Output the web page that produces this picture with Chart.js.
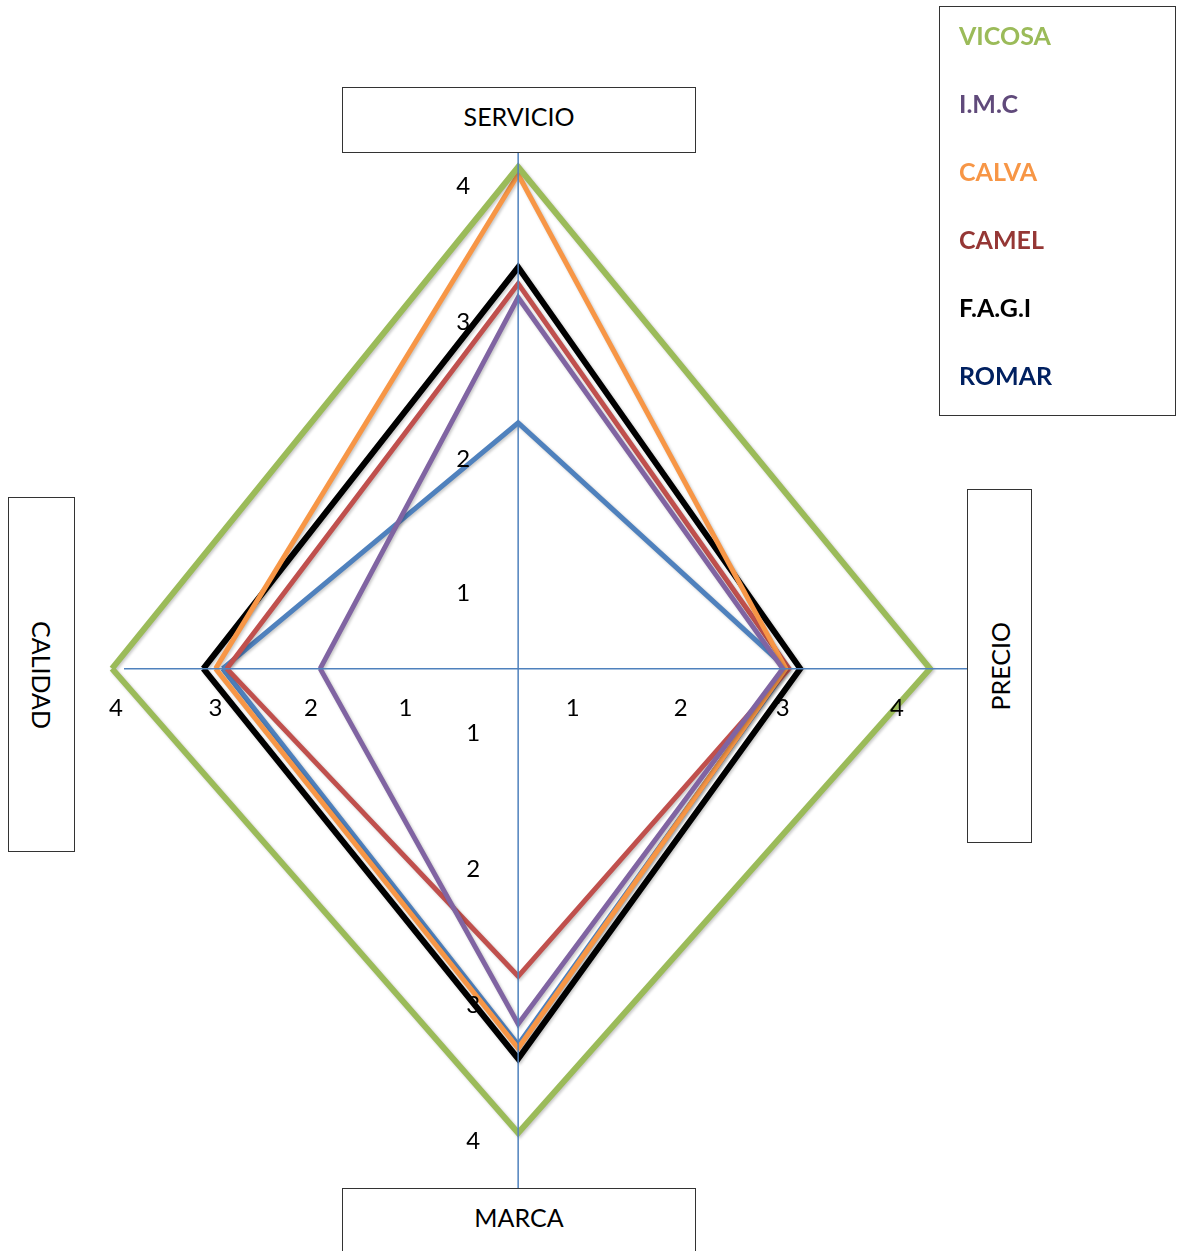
<!DOCTYPE html>
<html>
<head>
<meta charset="utf-8">
<title>Diagrama de posicionamiento</title>
<script src="https://cdn.jsdelivr.net/npm/chart.js@4.4.1/dist/chart.umd.min.js"></script>
<style>
    html, body { margin: 0; padding: 0; background: #fff; overflow: hidden; }
    #wrap { position: relative; width: 1181px; height: 1251px; font-family: Lato, 'Open Sans', sans-serif; }
    #wrap canvas { position: absolute; left: 0; top: 0; }
    .axis-box {
        position: absolute; box-sizing: border-box; background: #fff;
        border: 1px solid #333; display: flex; align-items: center; justify-content: center;
        font-size: 25px; color: #000;
    }
    #box-servicio { left: 342px; top: 87px; width: 354px; height: 66px; padding-bottom: 8px; }
    #box-marca { left: 342px; top: 1188px; width: 354px; height: 80px; padding-bottom: 22px; }
    #box-calidad { left: 8px; top: 497px; width: 67px; height: 355px; writing-mode: vertical-rl; }
    #box-precio { left: 967px; top: 489px; width: 65px; height: 354px; }
    #box-precio span { writing-mode: vertical-rl; transform: rotate(180deg); }
    #legend {
        position: absolute; left: 939px; top: 6px; width: 237px; height: 410px;
        box-sizing: border-box; border: 1px solid #333; background: #fff;
    }
    #legend ul { list-style: none; margin: 0; padding: 0 0 0 19px; position: relative; top: -6px; }
    #legend li { height: 68px; line-height: 68px; font-size: 25px; font-weight: bold; }
</style>
</head>
<body>
<div id="wrap">
    <canvas id="diamondChart"></canvas>
    <div class="axis-box" id="box-servicio">SERVICIO</div>
    <div class="axis-box" id="box-marca">MARCA</div>
    <div class="axis-box" id="box-calidad">CALIDAD</div>
    <div class="axis-box" id="box-precio"><span>PRECIO</span></div>
    <div id="legend"><ul id="legend-list"></ul></div>
</div>
<script>
// Values per company, in axis order: SERVICIO, PRECIO, MARCA, CALIDAD (0-4)
const axisNames = ['SERVICIO', 'PRECIO', 'MARCA', 'CALIDAD'];
const seriesNames = ['VICOSA', 'I.M.C', 'CALVA', 'CAMEL', 'F.A.G.I', 'ROMAR'];
const vicosa = [4.00, 4.00, 4.00, 4.00];
const imc = [2.96, 2.57, 3.06, 1.95];
const calva = [3.94, 2.60, 3.27, 2.98];
const camel = [3.07, 2.63, 2.65, 2.87];
const fagi = [3.20, 2.74, 3.36, 3.10];
const romar = [1.96, 2.61, 3.24, 2.91];

// Axis number labels and where each one sits along its axis
const tickLabels = ['1', '2', '3', '4'];
const servicioTickAt = [0.60, 1.67, 2.76, 3.85];
const precioTickAt = [0.53, 1.58, 2.57, 3.68];
const marcaTickAt = [0.56, 1.73, 2.90, 4.07];
const calidadTickAt = [1.11, 2.04, 2.98, 3.96];

// Styles
const lineColors = ['#9BBB59', '#8064A2', '#F79646', '#C0504D', '#000000', '#4F81BD'];
const legendColors = ['#9BBB59', '#604A7B', '#F79646', '#953735', '#000000', '#002060'];
const lineWidths = [6, 5, 5, 5, 6, 5];
const axisColor = '#4F81BD';

// Length of each arm (px for value 4) - the diamond is not symmetric
const reach = { up: 501.8, right: 412, down: 464.5, left: 406.3 };
const stretchRight = reach.right / reach.left;
const stretchDown = reach.down / reach.up;

// left -> top -> right -> bottom -> left
function toPoints(vals) {
    const [serv, prec, marc, cal] = vals;
    return [
        { x: -cal, y: 0 },
        { x: 0, y: serv },
        { x: prec * stretchRight, y: 0 },
        { x: 0, y: -marc * stretchDown },
        { x: -cal, y: 0 }
    ];
}

const diamondAxes = {
    id: 'diamondAxes',
    beforeDatasetsDraw(chart) {
        const ctx = chart.ctx;
        ctx.save();
        ctx.shadowColor = 'rgba(0, 0, 0, 0.22)';
        ctx.shadowBlur = 3;
        ctx.shadowOffsetX = 1.5;
        ctx.shadowOffsetY = 1.5;
    },
    afterDatasetsDraw(chart) {
        const ctx = chart.ctx;
        ctx.restore();
        const xs = chart.scales.x, ys = chart.scales.y;
        const x0 = xs.getPixelForValue(0);
        const y0 = ys.getPixelForValue(0);

        ctx.save();
        ctx.strokeStyle = axisColor;
        ctx.lineWidth = 1.5;
        ctx.beginPath();
        ctx.moveTo(x0, 153);
        ctx.lineTo(x0, 1188);
        ctx.moveTo(124, y0);
        ctx.lineTo(967, y0);
        ctx.stroke();

        ctx.fillStyle = '#000';
        ctx.font = '24px Lato';
        ctx.textAlign = 'center';
        ctx.textBaseline = 'middle';
        tickLabels.forEach((lbl, i) => {
            ctx.fillText(lbl, x0 - 55, ys.getPixelForValue(servicioTickAt[i]));
            ctx.fillText(lbl, xs.getPixelForValue(precioTickAt[i] * stretchRight), y0 + 40);
            ctx.fillText(lbl, x0 - 45, ys.getPixelForValue(-marcaTickAt[i] * stretchDown));
            ctx.fillText(lbl, xs.getPixelForValue(-calidadTickAt[i]), y0 + 40);
        });
        ctx.restore();
    }
};

function buildLegend() {
    const list = document.getElementById('legend-list');
    seriesNames.forEach((name, i) => {
        const li = document.createElement('li');
        li.textContent = name;
        li.style.color = legendColors[i];
        list.appendChild(li);
    });
}

function renderChart() {
    const allSeries = [vicosa, imc, calva, camel, fagi, romar];
    const ctx = document.getElementById('diamondChart').getContext('2d');

    new Chart(ctx, {
        type: 'scatter',
        data: {
            datasets: allSeries.map((vals, i) => ({
                label: seriesNames[i],
                data: toPoints(vals),
                showLine: true,
                borderColor: lineColors[i],
                backgroundColor: lineColors[i],
                borderWidth: lineWidths[i],
                borderJoinStyle: 'miter',
                borderCapStyle: 'butt',
                pointRadius: 0,
                pointHoverRadius: 0,
                tension: 0,
                fill: false,
                clip: false
            }))
        },
        options: {
            responsive: true,
            maintainAspectRatio: false,
            animation: false,
            events: [],
            layout: { padding: { left: 112, right: 251, top: 167, bottom: 118 } },
            plugins: {
                legend: { display: false },
                tooltip: { enabled: false }
            },
            scales: {
                x: { type: 'linear', min: -4, max: 4 * stretchRight, display: false },
                y: { type: 'linear', min: -4 * stretchDown, max: 4, display: false }
            }
        },
        plugins: [diamondAxes]
    });
}

buildLegend();
document.fonts.load('24px Lato').then(renderChart, renderChart);
</script>
</body>
</html>
